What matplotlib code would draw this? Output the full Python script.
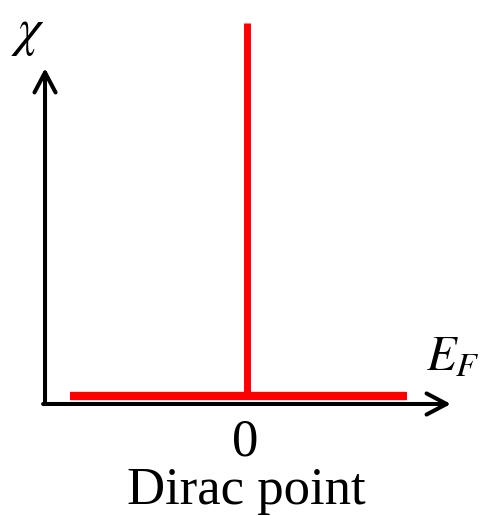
import matplotlib.pyplot as plt

plt.rcParams['mathtext.fontset'] = 'stix'

# flat susceptibility over the Fermi-energy window, delta peak at the Dirac point
energy = [-1.1, 1.0]
chi_flat = [0.0, 0.0]
dirac_energy = 0.0
peak_height = 1.0

red = '#ff0000'

fig = plt.figure(figsize=(4.82, 5.16), dpi=100)
ax = fig.add_axes([0, 0, 1, 1])
ax.set_xlim(-1.536, 1.467)
ax.set_ylim(-0.3217, 1.0617)
ax.axis('off')

# axes with open arrow heads
origin = (-1.2555, -0.0214)
arrow = dict(arrowstyle='->, head_length=0.72, head_width=0.38', lw=2.9,
             color='black', shrinkA=0, shrinkB=0, mutation_scale=20)
ax.annotate('', xy=(1.273, origin[1]), xytext=(origin[0] - 0.012, origin[1]),
            arrowprops=arrow)
ax.annotate('', xy=(origin[0], 0.879), xytext=origin, arrowprops=arrow)

ax.plot(energy, chi_flat, color=red, lw=6, solid_capstyle='butt', zorder=3)
ax.plot([dirac_energy, dirac_energy], [0, peak_height], color=red, lw=5,
        solid_capstyle='butt', zorder=3)

fig.text(28 / 482, 1 - 32 / 516, r'$\chi$', fontsize=38, ha='center', va='center')
fig.text(426 / 482, 1 - 370 / 516, r'$E_F$', fontsize=35, ha='left', va='baseline')
fig.text(245 / 482, 1 - 442 / 516, '0', family='Liberation Serif', fontsize=38,
         ha='center', va='center')
fig.text(246 / 482, 1 - 491 / 516, 'Dirac point', family='Liberation Serif',
         fontsize=38, ha='center', va='center')

fig.savefig('out.png', dpi=100)
